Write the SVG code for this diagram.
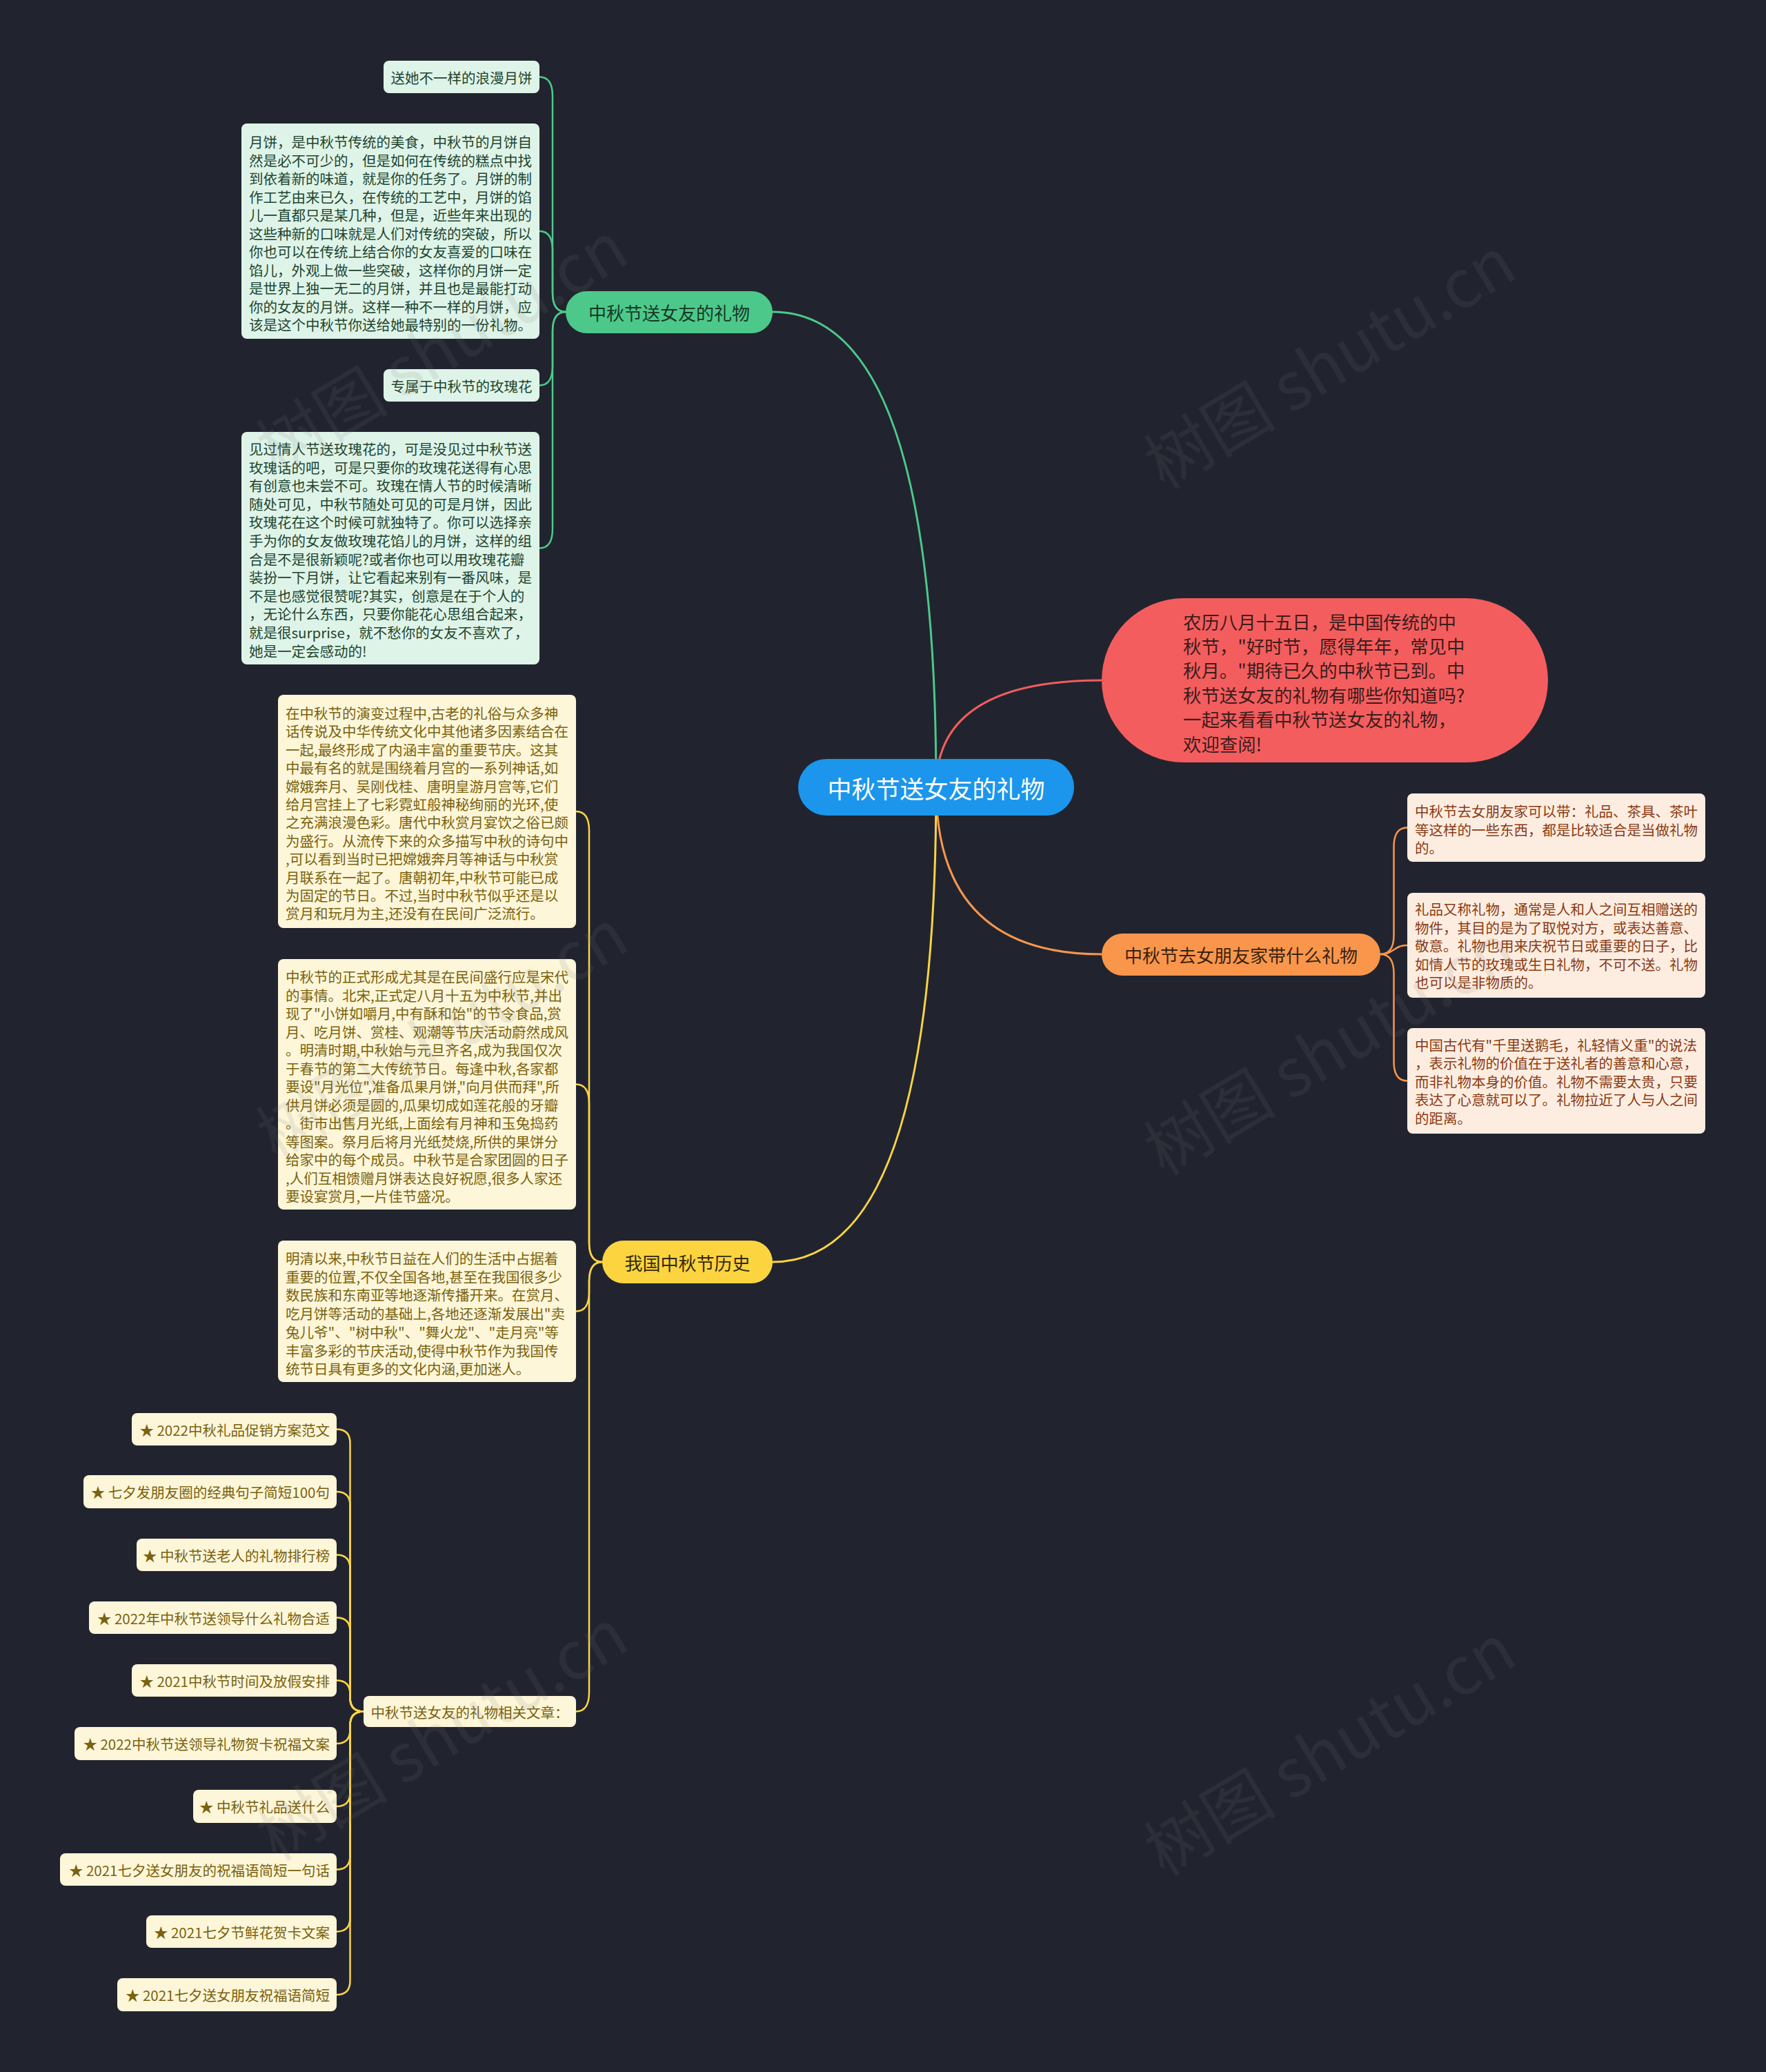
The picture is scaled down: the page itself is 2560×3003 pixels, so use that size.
<svg xmlns="http://www.w3.org/2000/svg" width="2560" height="3003" viewBox="0 0 2560 3003">
<style>
text{font-family:"Noto Sans CJK SC","Noto Sans",sans-serif;}
.c{fill:none;stroke-linecap:round;stroke-linejoin:round}
.g{stroke:#4cc98a}
.r{stroke:#f25d5d}
.o{stroke:#f9964c}
.y{stroke:#fbd444}
.main{stroke-width:3}
.sub{stroke-width:2.5}
.mid{text-anchor:middle;dominant-baseline:central}
.ln{dominant-baseline:central;font-size:20.5px}
.gbox{fill:#dff4e8}
.gt{fill:#1d4530}
.obox{fill:#fdede1}
.ot{fill:#8a3a12}
.ybox{fill:#fdf6d9}
.yt{fill:#7a620e}
.wm{font-size:96px;fill:#7a7a7a;opacity:0.12}
</style>
<rect x="0" y="0" width="2560" height="3003" fill="#21242f"/>

<g id="connectors">
  <path class="c g main" d="M1357 1141 Q1357 452 1120 452"/>
  <path class="c r main" d="M1357 1141 Q1357 986 1597 986"/>
  <path class="c o main" d="M1357 1141 Q1357 1383 1597 1383"/>
  <path class="c y main" d="M1357 1141 Q1357 1829 1120 1829"/>

  <path class="c g sub" d="M820 452 Q801 452 801 424 L801 139.5 Q801 111.5 782 111.5"/>
  <path class="c g sub" d="M820 452 Q801 452 801 424 L801 363 Q801 335 782 335"/>
  <path class="c g sub" d="M820 452 Q801 452 801 480 L801 530.5 Q801 558.5 782 558.5"/>
  <path class="c g sub" d="M820 452 Q801 452 801 480 L801 766.5 Q801 794.5 782 794.5"/>

  <path class="c o sub" d="M2001 1383 Q2020.5 1383 2020.5 1355 L2020.5 1227.5 Q2020.5 1199.5 2040 1199.5"/>
  <path class="c o sub" d="M2001 1383 C2020.5 1383 2020.5 1370 2040 1370"/>
  <path class="c o sub" d="M2001 1383 Q2020.5 1383 2020.5 1411 L2020.5 1538.5 Q2020.5 1566.5 2040 1566.5"/>

  <path class="c y sub" d="M873 1829 Q854 1829 854 1801 L854 1204 Q854 1176 835 1176"/>
  <path class="c y sub" d="M873 1829 Q854 1829 854 1801 L854 1599.5 Q854 1571.5 835 1571.5"/>
  <path class="c y sub" d="M873 1829 Q854 1829 854 1857 L854 1872.5 Q854 1900.5 835 1900.5"/>
  <path class="c y sub" d="M873 1829 Q854 1829 854 1857 L854 2452.5 Q854 2480.5 835 2480.5"/>

  <path class="c y sub" d="M527 2480.5 Q507.5 2480.5 507.5 2460.5 L507.5 2091.5 Q507.5 2071.5 488 2071.5"/>
  <path class="c y sub" d="M527 2480.5 Q507.5 2480.5 507.5 2460.5 L507.5 2182 Q507.5 2162 488 2162"/>
  <path class="c y sub" d="M527 2480.5 Q507.5 2480.5 507.5 2460.5 L507.5 2273.5 Q507.5 2253.5 488 2253.5"/>
  <path class="c y sub" d="M527 2480.5 Q507.5 2480.5 507.5 2460.5 L507.5 2364.5 Q507.5 2344.5 488 2344.5"/>
  <path class="c y sub" d="M527 2480.5 Q507.5 2480.5 507.5 2460.5 L507.5 2455.5 Q507.5 2435.5 488 2435.5"/>
  <path class="c y sub" d="M527 2480.5 Q507.5 2480.5 507.5 2500.5 L507.5 2507 Q507.5 2527 488 2527"/>
  <path class="c y sub" d="M527 2480.5 Q507.5 2480.5 507.5 2500.5 L507.5 2598 Q507.5 2618 488 2618"/>
  <path class="c y sub" d="M527 2480.5 Q507.5 2480.5 507.5 2500.5 L507.5 2689.5 Q507.5 2709.5 488 2709.5"/>
  <path class="c y sub" d="M527 2480.5 Q507.5 2480.5 507.5 2500.5 L507.5 2779.5 Q507.5 2799.5 488 2799.5"/>
  <path class="c y sub" d="M527 2480.5 Q507.5 2480.5 507.5 2500.5 L507.5 2871 Q507.5 2891 488 2891"/>
</g>

<g id="root">
  <rect x="1157" y="1100" width="400" height="82" rx="41" fill="#1b96ec"/>
  <text class="mid" x="1357" y="1141" font-size="35" fill="#ffffff">中秋节送女友的礼物</text>
</g>

<g id="intro">
  <rect x="1597" y="867" width="647" height="238" rx="119" fill="#f45d5d"/>
  <g font-size="26.4" fill="#3b1c1c">
    <text x="1715" y="900" dominant-baseline="central">农历八月十五日，是中国传统的中</text>
    <text x="1715" y="935.4" dominant-baseline="central">秋节，"好时节，愿得年年，常见中</text>
    <text x="1715" y="970.8" dominant-baseline="central">秋月。"期待已久的中秋节已到。中</text>
    <text x="1715" y="1006.2" dominant-baseline="central">秋节送女友的礼物有哪些你知道吗?</text>
    <text x="1715" y="1041.6" dominant-baseline="central">一起来看看中秋节送女友的礼物，</text>
    <text x="1715" y="1077" dominant-baseline="central">欢迎查阅!</text>
  </g>
</g>

<g id="branch-green">
  <rect x="820" y="422" width="300" height="61" rx="30.5" fill="#4cc98a"/>
  <text class="mid" x="970" y="452.5" font-size="26" fill="#173826">中秋节送女友的礼物</text>
</g>

<g id="green-1">
  <rect class="gbox" x="556" y="88" width="226" height="47" rx="8"/>
  <text class="mid gt" x="669" y="111.5" font-size="20.5">送她不一样的浪漫月饼</text>
</g>

<g id="green-2">
  <rect class="gbox" x="350" y="179" width="432" height="312" rx="8"/>
  <g class="gt">
    <text class="ln" x="361" y="205">月饼，是中秋节传统的美食，中秋节的月饼自</text>
    <text class="ln" x="361" y="231.5">然是必不可少的，但是如何在传统的糕点中找</text>
    <text class="ln" x="361" y="258">到依着新的味道，就是你的任务了。月饼的制</text>
    <text class="ln" x="361" y="284.5">作工艺由来已久，在传统的工艺中，月饼的馅</text>
    <text class="ln" x="361" y="311">儿一直都只是某几种，但是，近些年来出现的</text>
    <text class="ln" x="361" y="337.5">这些种新的口味就是人们对传统的突破，所以</text>
    <text class="ln" x="361" y="364">你也可以在传统上结合你的女友喜爱的口味在</text>
    <text class="ln" x="361" y="390.5">馅儿，外观上做一些突破，这样你的月饼一定</text>
    <text class="ln" x="361" y="417">是世界上独一无二的月饼，并且也是最能打动</text>
    <text class="ln" x="361" y="443.5">你的女友的月饼。这样一种不一样的月饼，应</text>
    <text class="ln" x="361" y="470">该是这个中秋节你送给她最特别的一份礼物。</text>
  </g>
</g>

<g id="green-3">
  <rect class="gbox" x="556" y="535" width="226" height="47" rx="8"/>
  <text class="mid gt" x="669" y="558.5" font-size="20.5">专属于中秋节的玫瑰花</text>
</g>

<g id="green-4">
  <rect class="gbox" x="350" y="626" width="432" height="337" rx="8"/>
  <g class="gt">
    <text class="ln" x="361" y="650">见过情人节送玫瑰花的，可是没见过中秋节送</text>
    <text class="ln" x="361" y="676.6">玫瑰话的吧，可是只要你的玫瑰花送得有心思</text>
    <text class="ln" x="361" y="703.2">有创意也未尝不可。玫瑰在情人节的时候清晰</text>
    <text class="ln" x="361" y="729.8">随处可见，中秋节随处可见的可是月饼，因此</text>
    <text class="ln" x="361" y="756.4">玫瑰花在这个时候可就独特了。你可以选择亲</text>
    <text class="ln" x="361" y="783">手为你的女友做玫瑰花馅儿的月饼，这样的组</text>
    <text class="ln" x="361" y="809.6">合是不是很新颖呢?或者你也可以用玫瑰花瓣</text>
    <text class="ln" x="361" y="836.2">装扮一下月饼，让它看起来别有一番风味，是</text>
    <text class="ln" x="361" y="862.8">不是也感觉很赞呢?其实，创意是在于个人的</text>
    <text class="ln" x="361" y="889.4">，无论什么东西，只要你能花心思组合起来，</text>
    <text class="ln" x="361" y="916">就是很surprise，就不愁你的女友不喜欢了，</text>
    <text class="ln" x="361" y="942.6">她是一定会感动的!</text>
  </g>
</g>

<g id="branch-orange">
  <rect x="1597" y="1353" width="404" height="61" rx="30.5" fill="#f9964c"/>
  <text class="mid" x="1799" y="1383.5" font-size="26" fill="#3a220e">中秋节去女朋友家带什么礼物</text>
</g>

<g id="orange-1">
  <rect class="obox" x="2040" y="1150" width="432" height="99" rx="8"/>
  <g class="ot">
    <text class="ln" x="2051" y="1175">中秋节去女朋友家可以带：礼品、茶具、茶叶</text>
    <text class="ln" x="2051" y="1201.5">等这样的一些东西，都是比较适合是当做礼物</text>
    <text class="ln" x="2051" y="1228">的。</text>
  </g>
</g>

<g id="orange-2">
  <rect class="obox" x="2040" y="1294" width="432" height="152" rx="8"/>
  <g class="ot">
    <text class="ln" x="2051" y="1317">礼品又称礼物，通常是人和人之间互相赠送的</text>
    <text class="ln" x="2051" y="1343.5">物件，其目的是为了取悦对方，或表达善意、</text>
    <text class="ln" x="2051" y="1370">敬意。礼物也用来庆祝节日或重要的日子，比</text>
    <text class="ln" x="2051" y="1396.5">如情人节的玫瑰或生日礼物，不可不送。礼物</text>
    <text class="ln" x="2051" y="1423">也可以是非物质的。</text>
  </g>
</g>

<g id="orange-3">
  <rect class="obox" x="2040" y="1490" width="432" height="153" rx="8"/>
  <g class="ot">
    <text class="ln" x="2051" y="1513.5">中国古代有"千里送鹅毛，礼轻情义重"的说法</text>
    <text class="ln" x="2051" y="1540">，表示礼物的价值在于送礼者的善意和心意，</text>
    <text class="ln" x="2051" y="1566.5">而非礼物本身的价值。礼物不需要太贵，只要</text>
    <text class="ln" x="2051" y="1593">表达了心意就可以了。礼物拉近了人与人之间</text>
    <text class="ln" x="2051" y="1619.5">的距离。</text>
  </g>
</g>

<g id="branch-yellow">
  <rect x="873" y="1798" width="247" height="62" rx="31" fill="#fcd440"/>
  <text class="mid" x="996.5" y="1829" font-size="26" fill="#332a0c">我国中秋节历史</text>
</g>

<g id="yellow-1">
  <rect class="ybox" x="403" y="1007" width="432" height="338" rx="8"/>
  <g class="yt">
    <text class="ln" x="414" y="1033">在中秋节的演变过程中,古老的礼俗与众多神</text>
    <text class="ln" x="414" y="1059.4">话传说及中华传统文化中其他诸多因素结合在</text>
    <text class="ln" x="414" y="1085.8">一起,最终形成了内涵丰富的重要节庆。这其</text>
    <text class="ln" x="414" y="1112.2">中最有名的就是围绕着月宫的一系列神话,如</text>
    <text class="ln" x="414" y="1138.6">嫦娥奔月、吴刚伐桂、唐明皇游月宫等,它们</text>
    <text class="ln" x="414" y="1165">给月宫挂上了七彩霓虹般神秘绚丽的光环,使</text>
    <text class="ln" x="414" y="1191.4">之充满浪漫色彩。唐代中秋赏月宴饮之俗已颇</text>
    <text class="ln" x="414" y="1217.8">为盛行。从流传下来的众多描写中秋的诗句中</text>
    <text class="ln" x="414" y="1244.2">,可以看到当时已把嫦娥奔月等神话与中秋赏</text>
    <text class="ln" x="414" y="1270.6">月联系在一起了。唐朝初年,中秋节可能已成</text>
    <text class="ln" x="414" y="1297">为固定的节日。不过,当时中秋节似乎还是以</text>
    <text class="ln" x="414" y="1323.4">赏月和玩月为主,还没有在民间广泛流行。</text>
  </g>
</g>

<g id="yellow-2">
  <rect class="ybox" x="403" y="1390" width="432" height="363" rx="8"/>
  <g class="yt">
    <text class="ln" x="414" y="1415">中秋节的正式形成尤其是在民间盛行应是宋代</text>
    <text class="ln" x="414" y="1441.5">的事情。北宋,正式定八月十五为中秋节,并出</text>
    <text class="ln" x="414" y="1468">现了"小饼如嚼月,中有酥和饴"的节令食品,赏</text>
    <text class="ln" x="414" y="1494.5">月、吃月饼、赏桂、观潮等节庆活动蔚然成风</text>
    <text class="ln" x="414" y="1521">。明清时期,中秋始与元旦齐名,成为我国仅次</text>
    <text class="ln" x="414" y="1547.5">于春节的第二大传统节日。每逢中秋,各家都</text>
    <text class="ln" x="414" y="1574">要设"月光位",准备瓜果月饼,"向月供而拜",所</text>
    <text class="ln" x="414" y="1600.5">供月饼必须是圆的,瓜果切成如莲花般的牙瓣</text>
    <text class="ln" x="414" y="1627">。街市出售月光纸,上面绘有月神和玉兔捣药</text>
    <text class="ln" x="414" y="1653.5">等图案。祭月后将月光纸焚烧,所供的果饼分</text>
    <text class="ln" x="414" y="1680">给家中的每个成员。中秋节是合家团圆的日子</text>
    <text class="ln" x="414" y="1706.5">,人们互相馈赠月饼表达良好祝愿,很多人家还</text>
    <text class="ln" x="414" y="1733">要设宴赏月,一片佳节盛况。</text>
  </g>
</g>

<g id="yellow-3">
  <rect class="ybox" x="403" y="1798" width="432" height="205" rx="8"/>
  <g class="yt">
    <text class="ln" x="414" y="1823">明清以来,中秋节日益在人们的生活中占据着</text>
    <text class="ln" x="414" y="1849.7">重要的位置,不仅全国各地,甚至在我国很多少</text>
    <text class="ln" x="414" y="1876.4">数民族和东南亚等地逐渐传播开来。在赏月、</text>
    <text class="ln" x="414" y="1903.1">吃月饼等活动的基础上,各地还逐渐发展出"卖</text>
    <text class="ln" x="414" y="1929.8">兔儿爷"、"树中秋"、"舞火龙"、"走月亮"等</text>
    <text class="ln" x="414" y="1956.5">丰富多彩的节庆活动,使得中秋节作为我国传</text>
    <text class="ln" x="414" y="1983.2">统节日具有更多的文化内涵,更加迷人。</text>
  </g>
</g>

<g id="yellow-related">
  <rect class="ybox" x="527" y="2458" width="308" height="45" rx="8"/>
  <text class="mid yt" x="681" y="2480.5" font-size="20.5">中秋节送女友的礼物相关文章：</text>
</g>

<g id="article-1"><rect class="ybox" x="191" y="2048" width="297" height="47" rx="8"/><text class="yt" x="478" y="2071.5" text-anchor="end" dominant-baseline="central" font-size="20.5">★ 2022中秋礼品促销方案范文</text></g>
<g id="article-2"><rect class="ybox" x="121" y="2138" width="367" height="48" rx="8"/><text class="yt" x="478" y="2162" text-anchor="end" dominant-baseline="central" font-size="20.5">★ 七夕发朋友圈的经典句子简短100句</text></g>
<g id="article-3"><rect class="ybox" x="198" y="2230" width="290" height="47" rx="8"/><text class="yt" x="478" y="2253.5" text-anchor="end" dominant-baseline="central" font-size="20.5">★ 中秋节送老人的礼物排行榜</text></g>
<g id="article-4"><rect class="ybox" x="129" y="2321" width="359" height="47" rx="8"/><text class="yt" x="478" y="2344.5" text-anchor="end" dominant-baseline="central" font-size="20.5">★ 2022年中秋节送领导什么礼物合适</text></g>
<g id="article-5"><rect class="ybox" x="191" y="2412" width="297" height="47" rx="8"/><text class="yt" x="478" y="2435.5" text-anchor="end" dominant-baseline="central" font-size="20.5">★ 2021中秋节时间及放假安排</text></g>
<g id="article-6"><rect class="ybox" x="108" y="2503" width="380" height="48" rx="8"/><text class="yt" x="478" y="2527" text-anchor="end" dominant-baseline="central" font-size="20.5">★ 2022中秋节送领导礼物贺卡祝福文案</text></g>
<g id="article-7"><rect class="ybox" x="280" y="2594" width="208" height="48" rx="8"/><text class="yt" x="478" y="2618" text-anchor="end" dominant-baseline="central" font-size="20.5">★ 中秋节礼品送什么</text></g>
<g id="article-8"><rect class="ybox" x="87" y="2686" width="401" height="47" rx="8"/><text class="yt" x="478" y="2709.5" text-anchor="end" dominant-baseline="central" font-size="20.5">★ 2021七夕送女朋友的祝福语简短一句话</text></g>
<g id="article-9"><rect class="ybox" x="212" y="2776" width="276" height="47" rx="8"/><text class="yt" x="478" y="2799.5" text-anchor="end" dominant-baseline="central" font-size="20.5">★ 2021七夕节鲜花贺卡文案</text></g>
<g id="article-10"><rect class="ybox" x="170" y="2867" width="318" height="48" rx="8"/><text class="yt" x="478" y="2891" text-anchor="end" dominant-baseline="central" font-size="20.5">★ 2021七夕送女朋友祝福语简短</text></g>

<g id="watermark">
  <text class="wm mid" transform="translate(637 498) rotate(-31)">树图 shutu.cn</text>
  <text class="wm mid" transform="translate(1924 520) rotate(-31)">树图 shutu.cn</text>
  <text class="wm mid" transform="translate(637 1494) rotate(-31)">树图 shutu.cn</text>
  <text class="wm mid" transform="translate(1924 1515) rotate(-31)">树图 shutu.cn</text>
  <text class="wm mid" transform="translate(637 2508) rotate(-31)">树图 shutu.cn</text>
  <text class="wm mid" transform="translate(1924 2530) rotate(-31)">树图 shutu.cn</text>
</g>
</svg>
